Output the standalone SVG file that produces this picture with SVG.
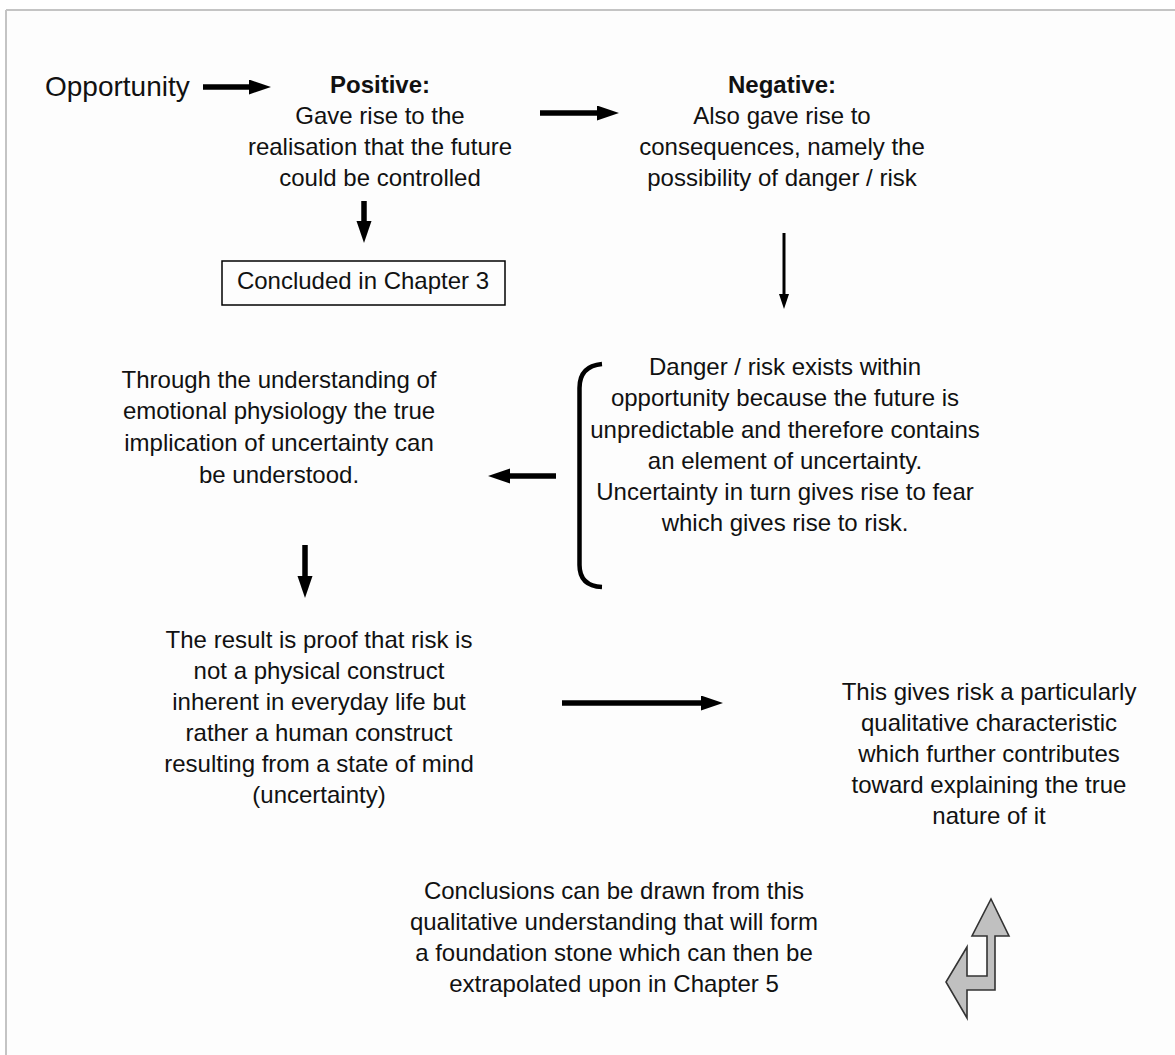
<svg xmlns="http://www.w3.org/2000/svg" width="1175" height="1055" viewBox="0 0 1175 1055">
<style>
.t{font-family:"Liberation Sans",Arial,sans-serif;font-size:24px;fill:#111;text-anchor:middle}
.b{font-weight:bold}
.sh{stroke:#000;stroke-width:5.5;fill:none}
.thin{stroke:#000;stroke-width:3;fill:none}
</style>
<defs>
<marker id="ah" markerUnits="userSpaceOnUse" markerWidth="24" markerHeight="16" refX="11" refY="7.5" orient="auto" viewBox="0 0 24 16">
<path d="M0,0 L22,7.5 L0,15 z" fill="#000"/>
</marker>
<marker id="ahs" markerUnits="userSpaceOnUse" markerWidth="16" markerHeight="12" refX="7" refY="5" orient="auto" viewBox="0 0 16 12">
<path d="M0,0 L15,5 L0,10 z" fill="#000"/>
</marker>
</defs>
<rect x="0" y="0" width="1175" height="1055" fill="#ffffff"/>
<rect x="7" y="11" width="1168" height="1044" fill="#fdfdfd"/>
<path d="M6,10 H1175 M6,10 V1055" stroke="#c4c4c4" stroke-width="2" fill="none"/>

<g id="connectors">
<line class="sh" x1="203" y1="87" x2="260" y2="87" marker-end="url(#ah)"/>
<line class="sh" x1="540" y1="113" x2="608" y2="113" marker-end="url(#ah)"/>
<line class="sh" x1="364" y1="201" x2="364" y2="232" stroke-width="7" marker-end="url(#ah)"/>
<line class="thin" x1="784" y1="233" x2="784" y2="301" marker-end="url(#ahs)"/>
<line class="sh" x1="556" y1="476" x2="499" y2="476" marker-end="url(#ah)"/>
<line class="sh" x1="305" y1="545" x2="305" y2="587" stroke-width="7" marker-end="url(#ah)"/>
<line class="sh" x1="562" y1="703" x2="712" y2="703" marker-end="url(#ah)"/>
<path id="bracket" d="M602,364 Q579.5,366 579.5,388 V565 Q579.5,586 602,587" stroke="#000" stroke-width="4.5" fill="none"/>
<polygon id="uturn" points="991,899 1009,936 995,936 995,990 967,990 967,1018 946,982 967,947 967,976 987,976 987,936 972,936" fill="#c0c0c0" stroke="#333" stroke-width="1.6" stroke-linejoin="miter"/>
</g>

<g id="n-opportunity">
<text x="45" y="96" style="font-family:'Liberation Sans',Arial,sans-serif;font-size:28px;fill:#111">Opportunity</text>
</g>

<g id="n-positive">
<text class="t b" x="380" y="93">Positive:</text>
<text class="t" x="380" y="124">Gave rise to the</text>
<text class="t" x="380" y="155">realisation that the future</text>
<text class="t" x="380" y="186">could be controlled</text>
</g>

<g id="n-chapter3">
<rect x="222" y="261" width="283" height="44" fill="none" stroke="#000" stroke-width="1.5"/>
<text class="t" x="363" y="289">Concluded in Chapter 3</text>
</g>

<g id="n-negative">
<text class="t b" x="782" y="93">Negative:</text>
<text class="t" x="782" y="124">Also gave rise to</text>
<text class="t" x="782" y="155">consequences, namely the</text>
<text class="t" x="782" y="186">possibility of danger / risk</text>
</g>

<g id="n-danger">
<text class="t" x="785" y="375">Danger / risk exists within</text>
<text class="t" x="785" y="406">opportunity because the future is</text>
<text class="t" x="785" y="438">unpredictable and therefore contains</text>
<text class="t" x="785" y="469">an element of uncertainty.</text>
<text class="t" x="785" y="500">Uncertainty in turn gives rise to fear</text>
<text class="t" x="785" y="531">which gives rise to risk.</text>
</g>

<g id="n-through">
<text class="t" x="279" y="388">Through the understanding of</text>
<text class="t" x="279" y="419">emotional physiology the true</text>
<text class="t" x="279" y="451">implication of uncertainty can</text>
<text class="t" x="279" y="483">be understood.</text>
</g>

<g id="n-result">
<text class="t" x="319" y="648">The result is proof that risk is</text>
<text class="t" x="319" y="679">not a physical construct</text>
<text class="t" x="319" y="710">inherent in everyday life but</text>
<text class="t" x="319" y="741">rather a human construct</text>
<text class="t" x="319" y="772">resulting from a state of mind</text>
<text class="t" x="319" y="803">(uncertainty)</text>
</g>

<g id="n-gives">
<text class="t" x="989" y="700">This gives risk a particularly</text>
<text class="t" x="989" y="731">qualitative characteristic</text>
<text class="t" x="989" y="762">which further contributes</text>
<text class="t" x="989" y="793">toward explaining the true</text>
<text class="t" x="989" y="824">nature of it</text>
</g>

<g id="n-conclusions">
<text class="t" x="614" y="899">Conclusions can be drawn from this</text>
<text class="t" x="614" y="930">qualitative understanding that will form</text>
<text class="t" x="614" y="961">a foundation stone which can then be</text>
<text class="t" x="614" y="992">extrapolated upon in Chapter 5</text>
</g>
</svg>
